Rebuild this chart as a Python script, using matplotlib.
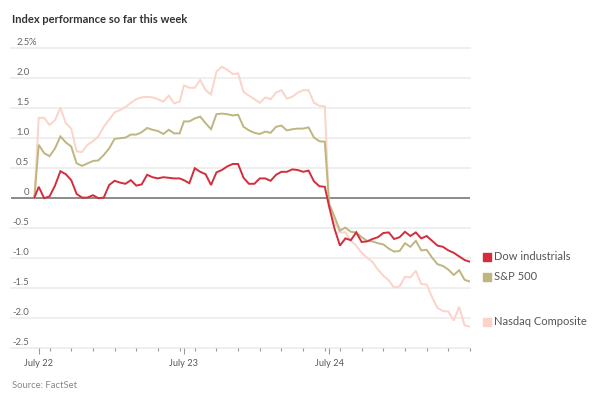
import matplotlib.pyplot as plt
import matplotlib.transforms as mtransforms
import numpy as np

plt.rcParams['font.family'] = ['Lato', 'DejaVu Sans']

days = ['July 22', 'July 23', 'July 24']

# % change vs. previous close, one reading every 15 min (9:30 .. 16:00) per day
dow = [0.18, -0.01, 0.02, 0.20, 0.44, 0.39, 0.29, 0.06, 0.00, 0.00, 0.04, -0.01, 0.00, 0.21,
       0.28, 0.25, 0.23, 0.29, 0.20, 0.22, 0.38, 0.34, 0.32, 0.34, 0.33, 0.32, 0.32,
       0.29, 0.24, 0.49, 0.43, 0.39, 0.21, 0.42, 0.46, 0.52, 0.56, 0.56, 0.33, 0.23, 0.23,
       0.32, 0.32, 0.28, 0.38, 0.43, 0.43, 0.47, 0.46, 0.43, 0.45, 0.27, 0.19, 0.18,
       -0.15, -0.52, -0.80, -0.68, -0.71, -0.58, -0.74, -0.73, -0.69, -0.66, -0.59, -0.58, -0.69,
       -0.66, -0.57, -0.64, -0.58, -0.68, -0.64, -0.72, -0.80, -0.82, -0.88, -0.92, -0.98, -1.04, -1.07]
sp500 = [0.88, 0.74, 0.69, 0.82, 1.02, 0.92, 0.85, 0.57, 0.53, 0.57, 0.61, 0.62, 0.71, 0.82,
         0.98, 0.99, 1.00, 1.05, 1.05, 1.09, 1.16, 1.13, 1.11, 1.06, 1.13, 1.07, 1.07,
         1.27, 1.27, 1.32, 1.35, 1.24, 1.14, 1.39, 1.40, 1.39, 1.37, 1.38, 1.18, 1.12, 1.08,
         1.06, 1.10, 1.08, 1.18, 1.20, 1.12, 1.14, 1.15, 1.15, 1.17, 1.00, 0.94, 0.93,
         -0.10, -0.32, -0.55, -0.50, -0.57, -0.58, -0.66, -0.72, -0.73, -0.76, -0.78, -0.85, -0.90,
         -0.89, -0.76, -0.82, -0.72, -0.88, -0.87, -1.00, -1.11, -1.14, -1.20, -1.29, -1.21, -1.37, -1.40]
nasdaq = [1.33, 1.33, 1.21, 1.29, 1.50, 1.24, 1.15, 0.77, 0.76, 0.88, 0.94, 1.02, 1.18, 1.30,
          1.42, 1.46, 1.51, 1.58, 1.64, 1.67, 1.68, 1.67, 1.64, 1.60, 1.70, 1.57, 1.60,
          1.87, 1.83, 1.83, 1.96, 1.79, 1.72, 2.10, 2.18, 2.13, 2.06, 2.07, 1.76, 1.70, 1.64,
          1.58, 1.67, 1.64, 1.75, 1.79, 1.65, 1.68, 1.75, 1.79, 1.79, 1.58, 1.53, 1.52,
          -0.15, -0.40, -0.58, -0.58, -0.72, -0.80, -0.92, -1.00, -1.07, -1.20, -1.30, -1.38, -1.50,
          -1.48, -1.32, -1.33, -1.22, -1.44, -1.45, -1.66, -1.84, -1.89, -1.90, -2.05, -1.82, -2.13, -2.15]

names = ['Dow industrials', 'S&P 500', 'Nasdaq Composite']
colors = ['#d42d3b', '#bfb67f', '#fcd3c8']

# trading-hours axis: 6.5 h per session plus a small overnight gap
gap = 0.2
slots = np.arange(27) * 0.25
x = np.concatenate([[-gap]] + [d * (6.5 + gap) + slots for d in range(3)])
series = [np.array([0.0] + s) for s in (dow, sp500, nasdaq)]

W, H = 600, 393
fig = plt.figure(figsize=(W / 100, H / 100), dpi=100)
ax = fig.add_axes([11 / W, (H - 347.6) / H, 459 / W, 300 / H])
ax.set_xlim(-1.28, 2 * (6.5 + gap) + 6.5)
ax.set_ylim(-2.5, 2.5)
for s in ax.spines.values():
    s.set_visible(False)
ax.set_yticks([])

yvals = np.arange(2.5, -2.51, -0.5)
for v in yvals:
    if abs(v) < 1e-9:
        ax.axhline(0, color='#8a8a8a', lw=1.4, zorder=1)
    else:
        ax.axhline(v, color='#ececec', lw=1.2, zorder=0, clip_on=False)

lab_tr = mtransforms.blended_transform_factory(ax.transAxes, ax.transData) + \
    mtransforms.ScaledTranslation(0, 3 / 100, fig.dpi_scale_trans)
xr = 18.5 / 459
for v in yvals:
    if abs(v) < 1e-9:
        t = '0'
    else:
        t = '%.1f' % v
    ax.text(xr, v, t, transform=lab_tr, ha='right', va='baseline', fontsize=6.8, color='#666666')
    if v == 2.5:
        ax.text(xr - 1.2 / 459, v, '%', transform=lab_tr, ha='left', va='baseline',
                fontsize=6.8, color='#666666')

for s, c, z in zip(series[::-1], colors[::-1], [2, 3, 4]):
    ax.plot(x, s, color=c, lw=1.4, zorder=z, solid_joinstyle='miter')

starts = [d * (6.5 + gap) for d in range(3)]
ax.set_xticks(starts)
ax.set_xticklabels(days)
ax.set_xticks([d + h for d in starts for h in np.arange(0.5, 6.6, 1.0)], minor=True)
ax.tick_params(axis='x', which='major', length=4, width=0.8, color='#999999',
               labelsize=6.6, labelcolor='#555555', pad=4)
ax.tick_params(axis='x', which='minor', length=2, width=0.8, color='#999999')

# end-of-line legend
leg_tr = mtransforms.blended_transform_factory(ax.transAxes, ax.transData)
for s, n, c in zip(series, names, colors):
    yv = s[-1] + 0.08
    ax.scatter([(486.5 - 11) / 459], [yv], s=26, marker='s', color=c, transform=leg_tr, clip_on=False)
    ax.text((494 - 11) / 459, yv, n, transform=leg_tr, ha='left', va='center',
            fontsize=8, color='#555555')

fig.text(12 / W, 1 - 22.7 / H, 'Index performance so far this week', fontsize=8,
         fontweight='bold', color='#333333', va='baseline')
fig.text(12 / W, 1 - 388 / H, 'Source: FactSet', fontsize=6.8, color='#888888', va='baseline')

fig.savefig('out.png', dpi=100)
